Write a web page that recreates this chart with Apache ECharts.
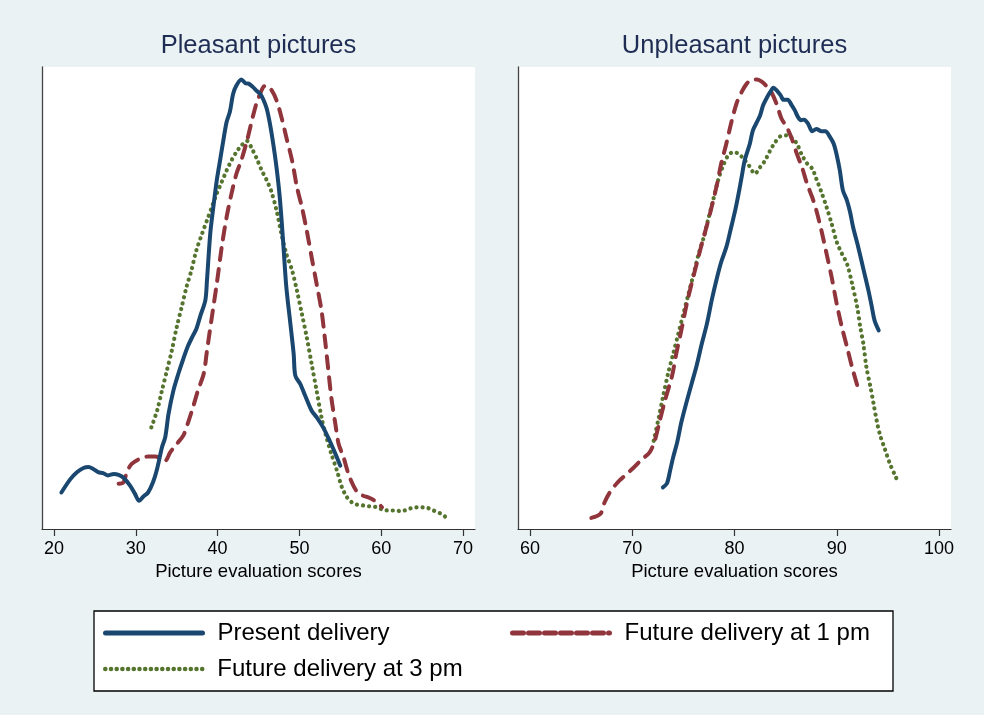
<!DOCTYPE html>
<html>
<head>
<meta charset="utf-8">
<script src="https://cdn.jsdelivr.net/npm/echarts@6/dist/echarts.min.js"></script>
<style>
html,body{margin:0;padding:0;background:#EAF2F3;}
#chart{width:984px;height:715px;}
</style>
</head>
<body>
<div id="chart"></div>
<script>
// ---- data (x = picture evaluation score, y = kernel density, arbitrary units) ----
const panelTitles = ['Pleasant pictures', 'Unpleasant pictures'];
const seriesNames = ['Present delivery', 'Future delivery at 1 pm', 'Future delivery at 3 pm'];
const xTitle = 'Picture evaluation scores';
const pleasantTicks = [20, 30, 40, 50, 60, 70];
const unpleasantTicks = [60, 70, 80, 90, 100];

const pleasantPresent = [[20.9,7.9],[22.0,10.8],[22.8,12.3],[23.6,13.2],[24.2,13.4],[24.8,13.0],[25.4,12.3],[26.0,12.1],[26.6,11.6],[27.3,11.9],[27.9,11.7],[28.5,11.1],[29.3,9.4],[29.9,7.6],[30.4,6.1],[30.9,7.0],[31.5,7.9],[32.1,10.1],[32.6,13.0],[33.2,17.7],[33.6,19.9],[34.0,24.9],[34.6,30.0],[35.2,33.6],[35.8,36.8],[36.4,39.7],[37.0,41.9],[37.4,43.3],[37.9,46.2],[38.5,49.5],[38.7,53.8],[39.1,63.9],[39.5,70.0],[39.9,75.5],[40.3,79.8],[40.7,84.1],[41.1,88.1],[41.5,90.3],[41.9,94.2],[42.3,96.0],[42.9,97.3],[43.4,96.5],[43.8,96.4],[44.3,95.7],[44.8,94.8],[45.2,94.2],[45.6,92.9],[46.0,91.0],[46.4,87.7],[46.8,83.4],[47.2,78.3],[47.6,71.8],[48.0,62.5],[48.4,52.4],[48.9,44.4],[49.3,37.9],[49.5,33.2],[50.1,31.4],[50.7,28.9],[51.5,25.6],[52.1,24.2],[52.9,22.0],[53.7,19.1],[54.4,16.3],[55.0,13.7]];
const pleasantFuture1 = [[27.9,9.8],[28.5,10.1],[28.9,12.3],[29.5,14.1],[30.5,15.2],[31.5,15.7],[32.4,15.7],[33.0,15.3],[33.6,14.8],[34.2,16.6],[35.0,18.4],[35.8,20.2],[36.4,23.1],[37.0,26.4],[37.6,30.0],[38.3,33.6],[38.7,38.6],[39.3,45.9],[39.9,53.1],[40.5,61.0],[41.1,67.5],[41.7,72.6],[42.3,76.9],[42.9,79.8],[43.6,84.1],[44.0,87.0],[44.4,89.9],[44.8,92.4],[45.2,94.2],[45.6,95.7],[46.0,96.0],[46.6,95.0],[47.2,92.8],[47.8,89.2],[48.4,84.8],[49.1,79.8],[49.7,74.0],[50.3,69.7],[50.9,64.6],[51.5,58.8],[52.1,53.1],[52.7,47.3],[53.1,41.5],[53.5,35.0],[53.9,28.5],[54.4,22.7],[54.8,18.4],[55.4,15.5],[56.0,11.9],[56.6,9.4],[57.2,7.7],[57.8,7.2],[58.6,6.7],[59.5,5.8],[60.1,4.7]];
const pleasantFuture3 = [[31.9,22.0],[32.6,25.6],[33.2,30.0],[33.8,34.3],[34.4,38.6],[35.0,43.7],[35.6,48.0],[36.2,52.4],[36.8,56.0],[37.4,60.3],[38.1,63.9],[38.7,66.8],[39.3,69.7],[39.9,72.6],[40.5,75.1],[41.1,77.6],[41.7,79.8],[42.3,81.6],[42.9,83.0],[43.6,84.0],[44.2,82.3],[44.8,80.1],[45.4,77.6],[46.0,75.5],[46.6,72.9],[47.2,69.0],[47.8,63.9],[48.4,59.6],[49.1,56.0],[49.7,51.6],[50.3,46.6],[50.9,41.5],[51.5,35.7],[52.1,30.0],[52.7,24.2],[53.3,19.9],[53.9,16.3],[54.6,12.6],[55.2,9.0],[55.8,6.9],[56.4,5.8],[57.0,5.3],[57.8,5.1],[58.6,4.9],[59.5,4.7],[60.3,4.1],[61.1,4.0],[61.9,4.0],[62.5,3.8],[63.1,4.2],[63.9,4.6],[64.7,4.7],[65.6,4.6],[66.4,4.0],[67.2,3.4],[67.8,2.7]];

const unpleasantPresent = [[73.0,9.0],[73.4,9.9],[73.7,12.6],[74.0,15.5],[74.4,18.8],[74.8,23.1],[75.3,27.4],[75.8,31.4],[76.3,35.4],[76.8,40.1],[77.3,44.4],[77.8,49.8],[78.3,54.5],[78.7,57.8],[79.2,61.0],[79.6,64.6],[80.1,69.3],[80.4,72.6],[80.7,76.2],[81.0,79.8],[81.5,83.4],[81.8,86.3],[82.2,88.1],[82.5,89.5],[82.8,91.7],[83.2,93.5],[83.5,94.6],[83.8,95.5],[84.1,95.0],[84.5,93.9],[84.8,92.9],[85.2,92.9],[85.6,91.7],[85.9,90.6],[86.2,89.2],[86.5,88.5],[86.8,88.6],[87.2,87.7],[87.6,86.1],[88.0,86.6],[88.5,86.1],[88.9,86.1],[89.3,85.0],[89.7,83.4],[90.0,80.9],[90.3,77.6],[90.6,73.3],[91.0,71.1],[91.3,68.6],[91.6,65.3],[92.1,61.0],[92.6,56.3],[93.1,51.6],[93.4,48.4],[93.7,45.1],[94.1,43.0]];
const unpleasantFuture1 = [[66.0,2.4],[66.9,3.3],[67.3,5.8],[67.8,7.9],[68.5,9.9],[69.3,11.6],[70.1,13.2],[70.9,15.0],[71.7,16.6],[72.2,19.1],[72.7,23.5],[73.2,27.8],[73.9,33.2],[74.3,37.9],[74.8,43.0],[75.3,48.4],[75.8,53.1],[76.3,57.4],[76.8,61.7],[77.3,65.7],[77.8,70.0],[78.3,74.7],[78.7,79.1],[79.2,83.4],[79.7,88.1],[80.2,92.1],[80.7,94.6],[81.2,96.4],[81.7,97.3],[82.2,97.3],[82.7,96.8],[83.2,95.7],[83.6,94.6],[84.1,92.1],[84.6,88.8],[85.1,87.0],[85.6,84.5],[86.1,81.2],[86.6,78.3],[87.1,74.7],[87.6,71.8],[88.0,69.0],[88.5,64.6],[89.0,59.6],[89.5,54.5],[90.0,48.7],[90.5,43.7],[91.0,39.4],[91.5,35.0],[92.0,31.1]];
const unpleasantFuture3 = [[72.1,19.1],[72.6,24.2],[73.0,28.5],[73.5,33.6],[74.0,37.9],[74.5,42.2],[75.0,46.6],[75.5,50.9],[76.0,55.2],[76.5,59.6],[77.0,63.2],[77.4,66.8],[77.9,71.1],[78.4,75.5],[78.9,78.7],[79.4,80.9],[79.9,81.6],[80.4,81.2],[80.9,80.1],[81.4,78.7],[82.0,76.9],[82.5,78.3],[83.0,79.8],[83.5,82.0],[84.0,83.8],[84.5,85.0],[85.1,85.2],[85.6,84.7],[86.1,83.4],[86.6,80.9],[87.1,79.1],[87.6,78.0],[88.0,75.8],[88.5,72.9],[89.0,69.7],[89.5,66.1],[90.0,62.1],[90.5,59.6],[91.0,57.4],[91.5,53.1],[92.0,48.0],[92.3,43.7],[92.6,40.1],[92.9,35.0],[93.3,30.7],[93.6,27.1],[93.9,23.5],[94.2,20.6],[94.7,17.3],[95.2,14.1],[95.7,11.6],[96.0,10.1]];

// ---- styles ----
const colors = ['#1a476f', '#90353b', '#55752f'];
const lineStyles = [
  {width: 4, type: 'solid', cap: 'round', join: 'round'},
  {width: 4, type: [12, 9], cap: 'round', join: 'round'},
  {width: 4.2, type: [0.1, 6], cap: 'round', join: 'round'}
];
const legendLineStyles = [
  {width: 5, type: 'solid', cap: 'round'},
  {width: 5, type: [11, 5], cap: 'round'},
  {width: 4.5, type: [0.1, 5.6], cap: 'round'}
];
const FONT = '"Liberation Sans", Arial, Helvetica, sans-serif';

function mkX(idx, min, max, ticks) {
  return {
    type: 'value', gridIndex: idx, min: min, max: max,
    splitLine: {show: false},
    axisLine: {show: true, onZero: false, lineStyle: {color: '#333', width: 1.2}},
    axisTick: {show: true, inside: false, length: 7, customValues: ticks, lineStyle: {color: '#333', width: 1.2}},
    axisLabel: {show: true, customValues: ticks, margin: 11, fontSize: 18, color: '#000', fontFamily: FONT},
    name: xTitle, nameLocation: 'middle', nameGap: 29,
    nameTextStyle: {fontSize: 18.5, color: '#000', fontFamily: FONT}
  };
}
function mkY(idx) {
  return {
    type: 'value', gridIndex: idx, min: 0, max: 100,
    splitLine: {show: false},
    axisLine: {show: true, lineStyle: {color: '#444', width: 1.3}},
    axisTick: {show: false}, axisLabel: {show: false}
  };
}
function mkSeries(name, data, k, idx) {
  return {
    name: name, type: 'line', xAxisIndex: idx, yAxisIndex: idx,
    data: data, symbol: 'none', showSymbol: false, smooth: 0.3,
    color: colors[k], lineStyle: Object.assign({color: colors[k]}, lineStyles[k]),
    silent: true, animation: false, z: 3 - k
  };
}
function mkLegend(k, left, top) {
  return {
    data: [seriesNames[k]], left: left, top: top, padding: 0, selectedMode: false,
    itemWidth: 97, itemHeight: 24, icon: 'inherit',
    itemStyle: {opacity: 0},
    lineStyle: Object.assign({color: colors[k]}, legendLineStyles[k]),
    textStyle: {fontSize: 24, color: '#000', fontFamily: FONT, padding: [0, 0, 0, 10]}
  };
}

const chart = echarts.init(document.getElementById('chart'), null, {renderer: 'canvas'});
const titleCenters = [258.5, 734.5];
const titleGraphics = titleCenters.map(function (cx, i) {
  const w = echarts.format.getTextRect ? echarts.format.getTextRect(panelTitles[i], '25.5px ' + FONT).width : 190;
  return {type: 'text', x: cx - w / 2, y: 33, style: {text: panelTitles[i], fill: '#1f2d55', fontSize: 25.5, fontFamily: FONT}};
});
chart.setOption({
  animation: false,
  backgroundColor: '#EAF2F3',
  grid: [
    {left: 42, right: 509, top: 67, bottom: 186, show: true, backgroundColor: '#ffffff', borderWidth: 0},
    {left: 518, right: 33, top: 67, bottom: 186, show: true, backgroundColor: '#ffffff', borderWidth: 0}
  ],
  xAxis: [mkX(0, 18.53, 71.47, pleasantTicks), mkX(1, 58.83, 101.17, unpleasantTicks)],
  yAxis: [mkY(0), mkY(1)],
  legend: [
    mkLegend(0, 103, 621),
    mkLegend(1, 510, 621),
    mkLegend(2, 103, 657)
  ],
  graphic: titleGraphics.concat([
    {type: 'rect', x: 94, y: 611, shape: {width: 799, height: 80}, style: {fill: '#ffffff', stroke: '#000', lineWidth: 1.3}, z: 0}
  ]),
  series: [
    mkSeries(seriesNames[0], pleasantPresent, 0, 0),
    mkSeries(seriesNames[1], pleasantFuture1, 1, 0),
    mkSeries(seriesNames[2], pleasantFuture3, 2, 0),
    mkSeries(seriesNames[0], unpleasantPresent, 0, 1),
    mkSeries(seriesNames[1], unpleasantFuture1, 1, 1),
    mkSeries(seriesNames[2], unpleasantFuture3, 2, 1)
  ]
});
</script>
</body>
</html>
